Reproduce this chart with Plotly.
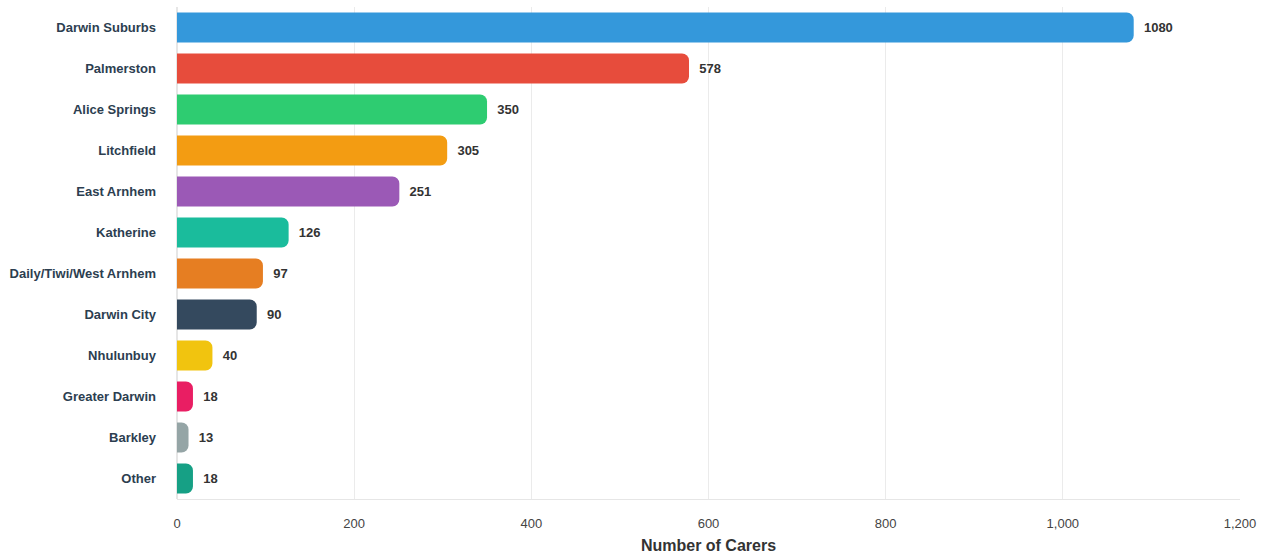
import plotly.graph_objects as go

regions = ["Darwin Suburbs", "Palmerston", "Alice Springs", "Litchfield", "East Arnhem",
           "Katherine", "Daily/Tiwi/West Arnhem", "Darwin City", "Nhulunbuy",
           "Greater Darwin", "Barkley", "Other"]
carers = [1080, 578, 350, 305, 251, 126, 97, 90, 40, 18, 13, 18]
colors = ["#3498db", "#e74c3c", "#2ecc71", "#f39c12", "#9b59b6", "#1abc9c",
          "#e67e22", "#34495e", "#f1c40f", "#e91e63", "#95a5a6", "#16a085"]

FONT = "Liberation Sans, Arial, sans-serif"

fig = go.Figure(go.Bar(
    x=carers,
    y=regions,
    orientation="h",
    marker=dict(color=colors, line=dict(width=0)),
    text=["\u00a0\u00a0" + str(v) for v in carers],
    textposition="outside",
    textfont=dict(family=FONT, size=13, color="#333333", weight="bold"),
    cliponaxis=False,
    width=0.73,
))

fig.update_layout(
    width=1268,
    height=559,
    margin=dict(l=177, r=28, t=7, b=57),
    paper_bgcolor="white",
    plot_bgcolor="white",
    barcornerradius=7,
    showlegend=False,
    font=dict(family=FONT, color="#34495e"),
)

fig.update_xaxes(
    range=[0, 1200],
    tick0=0,
    dtick=200,
    tickformat=",",
    showgrid=True,
    gridcolor="#ebebeb",
    gridwidth=1,
    zeroline=True,
    zerolinecolor="#e6e6e6",
    showline=True,
    linecolor="#e6e6e6",
    ticks="",
    ticklabelstandoff=12,
    tickfont=dict(size=13, color="#444444"),
    title=dict(text="Number of Carers", font=dict(size=16, color="#333333", weight="bold"), standoff=10),
)

fig.update_yaxes(
    categoryorder="array",
    categoryarray=regions[::-1],
    showgrid=False,
    ticks="",
    ticklabelstandoff=20,
    tickfont=dict(size=13, color="#2c3e50", weight="bold"),
)

fig.write_html("out.html")
